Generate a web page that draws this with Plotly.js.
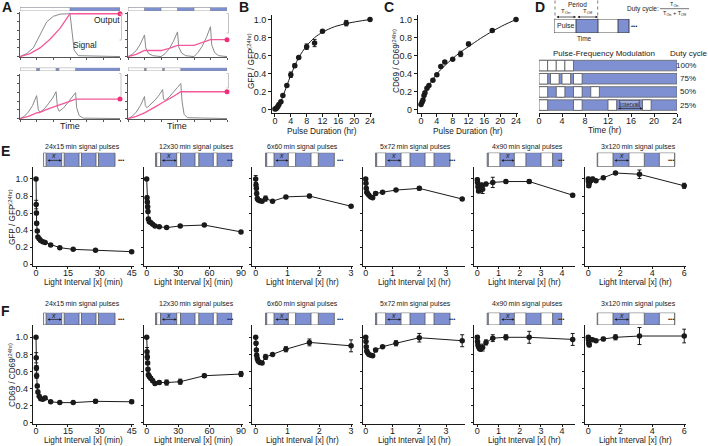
<!DOCTYPE html>
<html>
<head>
<meta charset="utf-8">
<script src="https://cdn.plot.ly/plotly-3.0.1.min.js"></script>
<style>html,body{margin:0;padding:0;background:#fff}</style>
</head>
<body>
<div id="fig" style="width:708px;height:446px"></div>
<script>
// ---- data: panel A (model traces, time units 0..12, output 0..1) ----
var aTLPulseStart = [0], aTLPulseLen = [6];
var aTLSigX = [0, 0.8, 1.6, 2.4, 3.2, 4.0, 4.8, 6.0, 6.2, 6.5, 7.0, 12];
var aTLSigY = [0, 0.07, 0.2, 0.5, 0.8, 0.93, 0.98, 0.99, 0.6, 0.15, 0.02, 0];
var aTLOutX = [0, 1.2, 2.4, 3.6, 4.8, 6, 12];
var aTLOutY = [0, 0.07, 0.2, 0.4, 0.65, 0.99, 0.99];

var aTRPulseStart = [0, 4, 8], aTRPulseLen = [2, 2, 2];
var aTRSigX = [0, 0.5, 1, 1.5, 2, 2.15, 2.5, 3, 4, 4.5, 5, 5.5, 6, 6.15, 6.5, 7, 8, 8.5, 9, 9.5, 10, 10.15, 10.5, 11, 12];
var aTRSigY = [0, 0.05, 0.14, 0.29, 0.5, 0.2, 0.07, 0.02, 0, 0.07, 0.18, 0.35, 0.57, 0.22, 0.08, 0.02, 0, 0.1, 0.24, 0.44, 0.69, 0.27, 0.09, 0.02, 0];
var aTROutX = [0, 1, 2, 4, 5, 6, 8, 9, 10, 12];
var aTROutY = [0, 0.05, 0.14, 0.14, 0.19, 0.26, 0.26, 0.32, 0.39, 0.39];

var aBLPulseStart = [0, 2.33, 4.67], aBLPulseLen = [2, 2, 2];
var aBLSigX = [0, 0.5, 1, 1.5, 2, 2.2, 2.4, 2.9, 3.4, 3.9, 4.33, 4.5, 4.7, 5.2, 5.7, 6.2, 6.67, 6.8, 7.1, 7.6, 12];
var aBLSigY = [0, 0.05, 0.15, 0.3, 0.53, 0.2, 0.15, 0.22, 0.34, 0.47, 0.62, 0.25, 0.17, 0.24, 0.36, 0.48, 0.6, 0.25, 0.07, 0.01, 0];
var aBLOutX = [0, 1, 2, 2.33, 3.3, 4.33, 4.67, 5.7, 6.67, 12];
var aBLOutY = [0, 0.05, 0.13, 0.14, 0.22, 0.3, 0.31, 0.38, 0.45, 0.45];

var aBRPulseStart = [0, 2.2, 4.4], aBRPulseLen = [2, 2, 2];
var aBRSigX = [0, 0.5, 1, 1.5, 2, 2.1, 2.3, 2.8, 3.3, 3.8, 4.2, 4.3, 4.5, 5, 5.5, 6, 6.4, 6.55, 6.8, 7.2, 12];
var aBRSigY = [0, 0.05, 0.15, 0.3, 0.51, 0.3, 0.25, 0.33, 0.43, 0.55, 0.67, 0.45, 0.42, 0.5, 0.6, 0.72, 0.81, 0.4, 0.1, 0.02, 0];
var aBROutX = [0, 1, 2, 2.2, 3.2, 4.2, 4.4, 5.4, 6.4, 12];
var aBROutY = [0, 0.05, 0.13, 0.15, 0.26, 0.37, 0.39, 0.5, 0.62, 0.62];

// ---- data: panels B and C ----
var pulseHr = [0, 0.25, 0.5, 0.75, 1, 1.5, 2, 3, 4, 5, 6, 8, 10, 12, 18, 24];
var gfpPulse = [0.01, 0.015, 0.025, 0.04, 0.06, 0.09, 0.16, 0.27, 0.39, 0.49, 0.58, 0.70, 0.74, 0.87, 0.96, 1.0];
var gfpPulseErr = [0.01, 0.01, 0.01, 0.01, 0.01, 0.01, 0.01, 0.01, 0.03, 0.02, 0.01, 0.03, 0.04, 0.01, 0.03, 0.01];
var gfpFitX = [0, 1, 2, 3, 4, 5, 6, 8, 10, 12, 15, 18, 21, 24];
var gfpFitY = [0, 0.05, 0.15, 0.27, 0.385, 0.49, 0.58, 0.71, 0.80, 0.86, 0.92, 0.955, 0.98, 1.0];
var cdPulse = [0.06, 0.085, 0.11, 0.16, 0.19, 0.24, 0.27, 0.33, 0.39, 0.48, 0.53, 0.56, 0.62, 0.73, 0.88, 1.0];
var cdPulseErr = [0.01, 0.01, 0.01, 0.01, 0.01, 0.01, 0.01, 0.01, 0.01, 0.01, 0.01, 0.01, 0.03, 0.02, 0.01, 0.01];
var cdFitX = [0, 1, 2, 3, 4, 6, 8, 10, 12, 15, 18, 21, 24];
var cdFitY = [0.05, 0.18, 0.27, 0.34, 0.40, 0.49, 0.57, 0.64, 0.70, 0.79, 0.87, 0.94, 1.0];

// ---- data: panel D ----
var dutyLabels = ['100%', '75%', '50%', '25%'];
var dutyPulseStarts = [[0, 1.5, 3, 4.5], [0, 2, 4, 6], [0, 3, 6, 9], [0, 6, 12, 18]];
var pulseLenHr = 1.5;
var dutyRowY = [3, 2, 1, 0];

// ---- data: panels E and F ----
var c1X = [0, 0.1, 0.2, 0.3, 0.6, 0.9, 1.5, 2.2, 3.2, 4.3, 6.9, 11.2, 17.5, 28, 45];
var c1GFP = [1.0, 0.70, 0.60, 0.48, 0.39, 0.32, 0.30, 0.28, 0.265, 0.255, 0.225, 0.195, 0.175, 0.165, 0.148];
var c1GFPErr = [0.01, 0.05, 0.02, 0.02, 0.01, 0.01, 0.01, 0.01, 0.01, 0.01, 0.01, 0.01, 0.01, 0.01, 0.01];
var c1CD = [1.0, 0.76, 0.64, 0.55, 0.43, 0.36, 0.31, 0.28, 0.275, 0.29, 0.245, 0.235, 0.235, 0.25, 0.245];
var c1CDErr = [0.01, 0.06, 0.03, 0.03, 0.02, 0.02, 0.01, 0.01, 0.01, 0.02, 0.01, 0.01, 0.01, 0.02, 0.02];

var c2X = [0, 0.3, 0.6, 0.9, 1.2, 1.6, 2.5, 3.8, 5.7, 7.9, 12, 19, 32, 55, 90];
var c2GFP = [1.0, 0.78, 0.73, 0.675, 0.62, 0.53, 0.50, 0.49, 0.47, 0.45, 0.44, 0.43, 0.45, 0.46, 0.38];
var c2GFPErr = [0.01, 0.02, 0.02, 0.02, 0.02, 0.02, 0.01, 0.01, 0.01, 0.01, 0.01, 0.01, 0.01, 0.01, 0.01];
var c2CD = [1.0, 0.83, 0.77, 0.70, 0.625, 0.56, 0.54, 0.52, 0.49, 0.46, 0.47, 0.47, 0.48, 0.55, 0.57];
var c2CDErr = [0.01, 0.05, 0.03, 0.02, 0.02, 0.02, 0.02, 0.02, 0.02, 0.02, 0.02, 0.03, 0.03, 0.02, 0.03];

var c3X = [0, 0.01, 0.02, 0.03, 0.05, 0.08, 0.13, 0.2, 0.31, 0.53, 0.95, 1.69, 3.0];
var c3GFP = [1.0, 0.93, 0.89, 0.83, 0.77, 0.755, 0.745, 0.74, 0.77, 0.74, 0.79, 0.80, 0.68];
var c3GFPErr = [0.04, 0.03, 0.02, 0.02, 0.02, 0.01, 0.01, 0.01, 0.03, 0.01, 0.01, 0.02, 0.01];
var c3CD = [1.0, 0.93, 0.85, 0.79, 0.75, 0.72, 0.705, 0.70, 0.77, 0.80, 0.86, 0.94, 0.90];
var c3CDErr = [0.01, 0.02, 0.02, 0.02, 0.02, 0.01, 0.01, 0.01, 0.03, 0.01, 0.03, 0.04, 0.07];

var c4X = [0, 0.01, 0.02, 0.04, 0.07, 0.12, 0.19, 0.26, 0.37, 0.63, 1.13, 2.0, 3.6];
var c4GFP = [1.0, 0.95, 0.89, 0.845, 0.83, 0.81, 0.79, 0.78, 0.83, 0.845, 0.87, 0.89, 0.765];
var c4GFPErr = [0.01, 0.01, 0.01, 0.01, 0.01, 0.01, 0.01, 0.01, 0.02, 0.01, 0.01, 0.02, 0.01];
var c4CD = [1.0, 0.95, 0.89, 0.84, 0.82, 0.80, 0.79, 0.785, 0.85, 0.89, 0.93, 0.995, 0.96];
var c4CDErr = [0.01, 0.01, 0.01, 0.01, 0.01, 0.01, 0.01, 0.01, 0.02, 0.01, 0.03, 0.05, 0.07];

var c5X = [0, 0.01, 0.03, 0.06, 0.1, 0.15, 0.2, 0.25, 0.41, 0.73, 1.35, 2.45, 4.5];
var c5GFP = [0.99, 0.96, 0.91, 0.86, 0.88, 0.87, 0.93, 0.88, 0.94, 0.96, 0.97, 0.97, 0.81];
var c5GFPErr = [0.02, 0.02, 0.02, 0.02, 0.02, 0.02, 0.02, 0.05, 0.02, 0.06, 0.02, 0.02, 0.02];
var c5CD = [1.0, 0.95, 0.91, 0.89, 0.87, 0.86, 0.88, 0.88, 0.94, 0.99, 1.0, 1.0, 0.975];
var c5CDErr = [0.02, 0.02, 0.02, 0.02, 0.02, 0.02, 0.02, 0.04, 0.03, 0.04, 0.03, 0.07, 0.07];

var c6X = [0, 0.01, 0.03, 0.06, 0.15, 0.27, 0.48, 0.94, 1.7, 3.2, 6.0];
var c6GFP = [1.0, 0.97, 0.92, 0.95, 0.98, 1.0, 0.98, 1.015, 1.07, 1.055, 0.92];
var c6GFPErr = [0.02, 0.02, 0.02, 0.02, 0.02, 0.02, 0.01, 0.01, 0.01, 0.05, 0.03];
var c6CD = [1.0, 0.97, 0.93, 0.91, 0.975, 0.97, 0.96, 0.98, 1.0, 1.015, 1.015];
var c6CDErr = [0.02, 0.03, 0.03, 0.02, 0.02, 0.01, 0.01, 0.02, 0.03, 0.1, 0.08];

var insetTitles = ['24x15\u2009min signal pulses', '12x30\u2009min signal pulses', '6x60\u2009min signal pulses',
                   '5x72\u2009min signal pulses', '4x90\u2009min signal pulses', '3x120\u2009min signal pulses'];
// schematic pulse trains, in units of one pixel of the drawing
var insetLen = [71.7, 76.7, 69.3, 75, 75, 78];
var insetPulseStart = [[0.3, 18.4, 35.7, 52.7], [1.7, 21.7, 40, 58.3], [1.7, 23.3, 46], [1.7, 26, 50], [1.6, 27.6, 54.3], [1, 32.3, 62.6]];
var insetPulseW = [2.5, 3.8, 7.3, 9, 11.6, 15.3];

// ---- drawing ----
var W = 708, H = 446;
var FONT = 'Liberation Sans, Arial, sans-serif';
var INK = '#1a1a1a', BLUE = '#7e90d2', SIG = '#8a8a8a', PINK = '#f4589a';

var traces = [], annotations = [], shapes = [];
var layout = {
    width: W, height: H,
    margin: {l: 0, r: 0, t: 0, b: 0},
    paper_bgcolor: '#fff', plot_bgcolor: 'rgba(0,0,0,0)',
    showlegend: false, hovermode: false, barmode: 'overlay',
    font: {family: FONT, color: INK}
};

var AXIS = {showline: true, linecolor: INK, linewidth: 1, ticks: 'outside', ticklen: 3, tickwidth: 1,
    tickcolor: INK, showgrid: false, zeroline: false, fixedrange: true,
    tickfont: {family: FONT, size: 9, color: INK}};

var axCount = 0;
function makeAxes(xl, xr, yt, yb, xo, yo){
    axCount++;
    var s = axCount === 1 ? '' : String(axCount);
    layout['xaxis' + s] = Object.assign({}, AXIS, {domain: [xl / W, xr / W], anchor: 'y' + s}, xo);
    layout['yaxis' + s] = Object.assign({}, AXIS, {domain: [1 - yb / H, 1 - yt / H], anchor: 'x' + s}, yo);
    return {x: 'x' + s, y: 'y' + s};
}

function text(t, x, y, size, extra){
    annotations.push(Object.assign({xref: 'paper', yref: 'paper', x: x / W, y: 1 - y / H, text: t,
        showarrow: false, font: {family: FONT, size: size, color: INK},
        xanchor: 'center', yanchor: 'middle'}, extra || {}));
}

function dblArrow(xref, yref, x, y, lenPx){
    annotations.push({xref: xref, yref: yref, x: x, y: y, ax: -lenPx, ay: 0, text: '',
        showarrow: true, arrowside: 'end+start', arrowhead: 2, arrowsize: 0.7, arrowwidth: 0.7, arrowcolor: INK});
}

function addBars(ax, starts, lens, y, thick, color, lineColor, lw){
    traces.push({type: 'bar', orientation: 'h', base: starts, x: lens,
        y: starts.map(function(){ return y; }), width: thick,
        xaxis: ax.x, yaxis: ax.y, hoverinfo: 'skip',
        marker: {color: color, line: {color: lineColor, width: lw}}});
}

function line(x0, y0, x1, y1, color, width, dash){
    shapes.push({type: 'line', xref: 'paper', yref: 'paper', x0: x0 / W, x1: x1 / W, y0: 1 - y0 / H, y1: 1 - y1 / H,
        line: {color: color, width: width, dash: dash || 'solid'}});
}

// Panel A
function panelA(xl, xr, barT, barB, plotT, plotB, pStart, pLen, sx, sy, ox, oy){
    var bar = makeAxes(xl, xr, barT, barB, {visible: false, range: [0, 12]}, {visible: false, range: [0, 1]});
    addBars(bar, [0], [12], 0.5, 1, BLUE, '#888', 0.6);
    addBars(bar, pStart, pLen, 0.5, 1, '#fff', '#777', 0.6);
    var ax = makeAxes(xl, xr, plotT, plotB,
        {range: [0, 12], tick0: 0, dtick: 2, showticklabels: false, ticklen: 2, linecolor: '#555', tickcolor: '#555'},
        {range: [-0.01, 1.03], tick0: 0, dtick: 0.2, showticklabels: false, ticklen: 2, linecolor: '#555', tickcolor: '#555'});
    traces.push({type: 'scatter', mode: 'lines', x: sx, y: sy, xaxis: ax.x, yaxis: ax.y, line: {color: SIG, width: 1}});
    traces.push({type: 'scatter', mode: 'lines', x: ox, y: oy, xaxis: ax.x, yaxis: ax.y, line: {color: PINK, width: 1.3}});
    traces.push({type: 'scatter', mode: 'markers', x: [ox[ox.length - 1]], y: [oy[oy.length - 1]],
        xaxis: ax.x, yaxis: ax.y, cliponaxis: false, marker: {color: '#ef2f78', size: 5}});
}
panelA(20, 120, 7.3, 11, 12, 57, aTLPulseStart, aTLPulseLen, aTLSigX, aTLSigY, aTLOutX, aTLOutY);
panelA(128, 227, 7.3, 11, 12, 57, aTRPulseStart, aTRPulseLen, aTRSigX, aTRSigY, aTROutX, aTROutY);
panelA(20, 120, 67.7, 71, 74, 119, aBLPulseStart, aBLPulseLen, aBLSigX, aBLSigY, aBLOutX, aBLOutY);
panelA(128, 227, 67.7, 71, 74, 119, aBRPulseStart, aBRPulseLen, aBRSigX, aBRSigY, aBROutX, aBROutY);
text('Output', 107, 20, 8.5);
text('Signal', 85, 45, 8.5);
text('Time', 70, 126, 9);
text('Time', 177, 126, 9);
[[121.5, 14, 40], [228.5, 13.5, 33], [121, 73.5, 96.5], [228.5, 73.5, 88]].forEach(function(b){
    shapes.push({type: 'path', xref: 'paper', yref: 'paper',
        path: 'M' + ((b[0] - 2) / W) + ',' + (1 - b[1] / H) + ' L' + (b[0] / W) + ',' + (1 - b[1] / H) +
              ' L' + (b[0] / W) + ',' + (1 - b[2] / H) + ' L' + ((b[0] - 2) / W) + ',' + (1 - b[2] / H),
        line: {color: '#c4c4c4', width: 1}});
});

// Panels B and C
var yTicks = [0, 0.2, 0.4, 0.6, 0.8, 1.0], yText = ['0', '0.2', '0.4', '0.6', '0.8', '1.0'];
var hrTicks = [0, 4, 8, 12, 16, 20, 24];
function doseResponse(xl, xr, xmin, ys, err, fx, fy){
    var ax = makeAxes(xl, xr, 15, 112.7, {range: [xmin, 24.5], tickvals: hrTicks, ticklabelstandoff: -4},
        {range: [-0.03, 1.05], tickvals: yTicks, ticktext: yText});
    traces.push({type: 'scatter', mode: 'lines', x: fx, y: fy, xaxis: ax.x, yaxis: ax.y,
        line: {color: INK, width: 1, shape: 'spline', smoothing: 0.8}});
    traces.push({type: 'scatter', mode: 'markers', x: pulseHr, y: ys, xaxis: ax.x, yaxis: ax.y, cliponaxis: false,
        marker: {color: INK, size: 5.5},
        error_y: {type: 'data', array: err, visible: true, color: INK, thickness: 1, width: 2}});
}
doseResponse(272, 372, -0.75, gfpPulse, gfpPulseErr, gfpFitX, gfpFitY);
doseResponse(417.7, 518, -0.84, cdPulse, cdPulseErr, cdFitX, cdFitY);
text('Pulse Duration (hr)', 322, 130.5, 8.3);
text('Pulse Duration (hr)', 468, 130.5, 8.3);
text('GFP / GFP<sup>(24hr)</sup>', 251, 61, 8.2, {textangle: -90});
text('CD69 / CD69<sup>(24hr)</sup>', 396, 61, 8.2, {textangle: -90});

// Panel D, top schematic
var dTop = makeAxes(554, 640, 19, 33, {visible: false, range: [0, 86]}, {visible: false, range: [0, 1]});
addBars(dTop, [0], [75], 0.5, 1, BLUE, '#333', 0.9);
addBars(dTop, [0, 44], [22, 20], 0.5, 1, '#fff', '#333', 0.9);
text('Pulse', 565.5, 26, 7);
text('\u2022\u2022\u2022', 634, 26, 6);
text('Time', 584, 38, 6.5);
text('Period', 577, 4.7, 6.5);
text('T<sub>On</sub>', 565.5, 11.7, 6);
text('T<sub>Off</sub>', 587.5, 11.7, 6);
dblArrow('paper', 'paper', 576 / W, 1 - 17 / H, 21);
dblArrow('paper', 'paper', 598 / W, 1 - 17 / H, 22);
line(555, 0.5, 555, 19, '#444', 0.7, 'dot');
line(597.7, 0.5, 597.7, 19, '#444', 0.7, 'dot');
text('Duty cycle:', 642.5, 9.3, 6.5);
text('T<sub>On</sub>', 674.5, 4.3, 5.5);
line(660, 8.7, 689, 8.7, INK, 0.6);
text('T<sub>On</sub> + T<sub>Off</sub>', 674.5, 13.3, 5.5);

// Panel D, pulse-frequency modulation rows
var dAx = makeAxes(539, 677, 59, 113, {range: [0, 24], tickvals: hrTicks, ticklabelstandoff: -4},
    {visible: false, range: [-0.6, 3.5]});
dutyRowY.forEach(function(ry, i){
    addBars(dAx, [0], [24], ry, 0.8, BLUE, '#666', 0.8);
    addBars(dAx, dutyPulseStarts[i], dutyPulseStarts[i].map(function(){ return pulseLenHr; }), ry, 0.8, '#fff', '#555', 0.8);
    annotations.push({xref: 'paper', yref: dAx.y, x: 698 / W, y: ry, text: dutyLabels[i], showarrow: false,
        xanchor: 'right', yanchor: 'middle', font: {family: FONT, size: 8, color: INK}});
});
var lastRow = dutyPulseStarts[3];
annotations.push({xref: dAx.x, yref: dAx.y, x: (lastRow[2] + pulseLenHr + lastRow[3]) / 2, y: 0.12,
    text: 'Interval', showarrow: false, font: {family: FONT, size: 6, color: INK},
    bgcolor: '#9eabdf', bordercolor: '#333', borderwidth: 0.5, borderpad: 0});
dblArrow(dAx.x, dAx.y, lastRow[3], -0.25, (lastRow[3] - lastRow[2] - pulseLenHr) * 5.75);
text('Pulse-Frequency Modulation', 604, 53, 8);
text('Duty cycle', 688, 53, 8);
text('Time (hr)', 605, 129.5, 8.3);

// Panels E and F
var colPx = [[33.3, 134], [144, 243], [252.3, 353], [363.3, 465], [474, 575], [585, 686]];
var colRange = [[-1.27, 46.1], [-2.58, 91.9], [-0.107, 3.06], [-0.09, 3.705], [-0.156, 4.61], [-0.206, 6.11]];
var colTicks = [[0, 15, 30, 45], [0, 30, 60, 90], [0, 1, 2, 3], [0, 1, 2, 3], [0, 1, 2, 3, 4], [0, 2, 4, 6]];
var colUnit = ['min', 'min', 'hr', 'hr', 'hr', 'hr'];
var insetLeft = [43.3, 155, 265, 375, 486.7, 596.7];
var insetDots = [77.5, 75, 74.5, 76.5, 74, 74.5];
var colX = [c1X, c2X, c3X, c4X, c5X, c6X];
var rows = [
    {ys: [c1GFP, c2GFP, c3GFP, c4GFP, c5GFP, c6GFP], err: [c1GFPErr, c2GFPErr, c3GFPErr, c4GFPErr, c5GFPErr, c6GFPErr],
     top: 166.7, bot: 266, insT: 152.7, titleY: 146.7, xTitleY: 282.5, yTitle: 'GFP / GFP<sup>(24hr)</sup>', yTitleY: 217},
    {ys: [c1CD, c2CD, c3CD, c4CD, c5CD, c6CD], err: [c1CDErr, c2CDErr, c3CDErr, c4CDErr, c5CDErr, c6CDErr],
     top: 325, bot: 424.4, insT: 312.7, titleY: 304.3, xTitleY: 440.5, yTitle: 'CD69 / CD69<sup>(24hr)</sup>', yTitleY: 375}
];
rows.forEach(function(r){
    for (var c = 0; c < 6; c++){
        var ins = makeAxes(insetLeft[c], insetLeft[c] + 85, r.insT, r.top, {visible: false, range: [0, 85]},
            {visible: false, range: [0, 1]});
        var ps = insetPulseStart[c], pw = insetPulseW[c];
        addBars(ins, [0], [insetLen[c]], 0.5, 1, BLUE, '#555', 0.8);
        addBars(ins, ps, ps.map(function(){ return pw; }), 0.5, 1, '#fff', '#555', 0.8);
        annotations.push({xref: ins.x, yref: ins.y, x: insetDots[c], y: 0.5, text: '\u2022\u2022\u2022', showarrow: false,
            font: {family: FONT, size: 6, color: INK}});
        annotations.push({xref: ins.x, yref: ins.y, x: (ps[0] + pw + ps[1]) / 2, y: 0.8, text: '<i>x</i>', showarrow: false,
            font: {family: FONT, size: 7, color: INK}});
        dblArrow(ins.x, ins.y, ps[1], 0.45, ps[1] - ps[0] - pw);
        text(insetTitles[c], insetLeft[c] + insetLen[c] / 2 + 3, r.titleY, 7);

        var ax = makeAxes(colPx[c][0], colPx[c][1], r.top, r.bot,
            {range: colRange[c], tickvals: colTicks[c], ticklen: 2, ticklabelstandoff: -4},
            {range: [-0.02, 1.144], tickvals: yTicks, ticktext: yText, ticklen: 2.5, showticklabels: c === 0});
        traces.push({type: 'scatter', mode: 'lines+markers', x: colX[c], y: r.ys[c], xaxis: ax.x, yaxis: ax.y,
            cliponaxis: false, line: {color: INK, width: 1}, marker: {color: INK, size: 5.5},
            error_y: {type: 'data', array: r.err[c], visible: true, color: INK, thickness: 1, width: 2}});
        text('Light Interval [x] (' + colUnit[c] + ')', (colPx[c][0] + colPx[c][1]) / 2, r.xTitleY, 8.2);
    }
    text(r.yTitle, 12, r.yTitleY, 8.2, {textangle: -90});
});

// panel letters
[['A', 6.7, 7.5], ['B', 244, 7.5], ['C', 389, 7.5], ['D', 540, 7.5], ['E', 5, 150.8], ['F', 5, 311]].forEach(function(p){
    text('<b>' + p[0] + '</b>', p[1], p[2], 14);
});

layout.annotations = annotations;
layout.shapes = shapes;
Plotly.newPlot('fig', traces, layout, {staticPlot: true});
</script>
</body>
</html>
